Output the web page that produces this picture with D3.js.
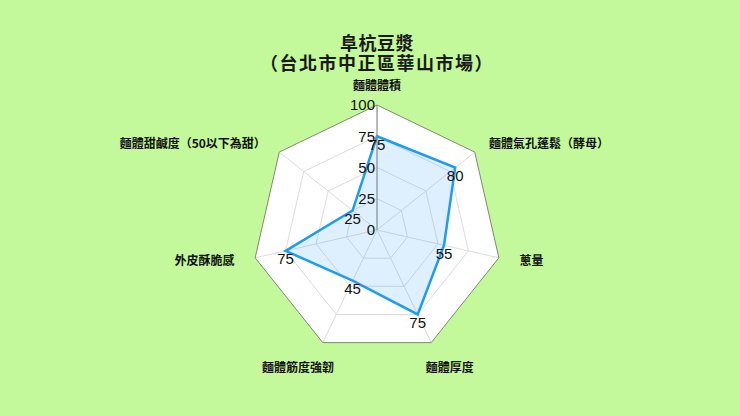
<!DOCTYPE html>
<html>
  <head>
    <meta charset="utf-8">
    <title>阜杭豆漿</title>
    <style>
      html, body { margin: 0; padding: 0; background: #c4f99b; }
      svg { display: block; }
      text { font-family: "Noto Sans CJK TC", "Noto Sans", sans-serif; }
      text.num { font-family: "Liberation Sans", Arial, sans-serif; }
    </style>
  </head>
  <body>
    <script src="https://d3js.org/d3.v7.min.js"></script>
    <script type="text/javascript">
      var titleLines = ['阜杭豆漿', '（台北市中正區華山市場）'];
      var categories = ['麵體體積', '麵體氣孔蓬鬆（酵母）', '蔥量', '麵體厚度',
                        '麵體筋度強韌', '外皮酥脆感', '麵體甜鹹度（50以下為甜）'];
      var values = [75, 80, 55, 75, 45, 75, 25];
      var ticks = [0, 25, 50, 75, 100];

      var w = 740;
      var h = 416;
      var cx = 377;
      var cy = 230;
      var radius = 125;
      var n = categories.length;

      var svg = d3.select('body').append('svg').attr('width', w).attr('height', h);

      var r = d3.scaleLinear().domain([0, 100]).range([0, radius]);
      var angle = d3.scaleLinear().domain([0, n]).range([0, 2 * Math.PI]);

      function pt(i, v) {
        var a = angle(i);
        return [cx + r(v) * Math.sin(a), cy - r(v) * Math.cos(a)];
      }

      // title
      svg.selectAll('text.title')
        .data(titleLines)
        .enter()
        .append('text')
        .attr('class', 'title')
        .attr('x', cx)
        .attr('y', function(d, i) { return 50 + i * 20; })
        .attr('text-anchor', 'middle')
        .attr('font-size', '18px')
        .attr('font-weight', 'bold')
        .attr('fill', '#1a1a1a')
        .attr('letter-spacing', function(d, i) { return i ? '1.5px' : '0.5px'; })
        .text(function(d) { return d; });

      var ring = d3.line();
      function ringPath(v) {
        return ring(d3.range(n).map(function(i) { return pt(i, v); })) + 'Z';
      }

      // outer background
      svg.append('path')
        .attr('d', ringPath(100))
        .attr('fill', '#fff')
        .attr('stroke', 'none');

      // inner rings
      svg.selectAll('path.ring')
        .data(ticks.slice(1, -1))
        .enter()
        .append('path')
        .attr('class', 'ring')
        .attr('d', function(d) { return ringPath(d); })
        .attr('fill', 'none')
        .attr('stroke', '#dcdcdc')
        .attr('stroke-width', 1);

      // spokes
      svg.selectAll('line.spoke')
        .data(d3.range(n))
        .enter()
        .append('line')
        .attr('class', 'spoke')
        .attr('x1', cx)
        .attr('y1', cy)
        .attr('x2', function(i) { return pt(i, 100)[0]; })
        .attr('y2', function(i) { return pt(i, 100)[1]; })
        .attr('stroke', '#dcdcdc')
        .attr('stroke-width', 1);

      // outer edge
      svg.append('path')
        .attr('d', ringPath(100))
        .attr('fill', 'none')
        .attr('stroke', '#7f8c70')
        .attr('stroke-width', 1);

      // data polygon
      svg.append('path')
        .attr('d', ring(values.map(function(v, i) { return pt(i, v); })) + 'Z')
        .attr('fill', 'rgba(33,150,243,0.15)')
        .attr('stroke', '#1e9cf0')
        .attr('stroke-width', 2.5)
        .attr('stroke-linejoin', 'miter');

      // radial axis
      svg.append('line')
        .attr('x1', cx).attr('y1', cy)
        .attr('x2', cx).attr('y2', cy - radius)
        .attr('stroke', '#888')
        .attr('stroke-width', 1);

      svg.selectAll('text.tick')
        .data(ticks)
        .enter()
        .append('text')
        .attr('class', 'tick num')
        .attr('x', cx - 2)
        .attr('y', function(d) { return cy - r(d); })
        .attr('dy', '0.35em')
        .attr('text-anchor', 'end')
        .attr('font-size', '15px')
        .attr('fill', '#111')
        .text(function(d) { return d; });

      // value labels
      svg.selectAll('text.val')
        .data(values)
        .enter()
        .append('text')
        .attr('class', 'val num')
        .attr('x', function(d, i) { return pt(i, d)[0]; })
        .attr('y', function(d, i) { return pt(i, d)[1] + 8; })
        .attr('dy', '0.35em')
        .attr('text-anchor', 'middle')
        .attr('font-size', '15px')
        .attr('fill', '#111')
        .text(function(d) { return d; });

      // category labels
      svg.selectAll('text.cat')
        .data(categories)
        .enter()
        .append('text')
        .attr('class', 'cat')
        .attr('font-size', '12px')
        .attr('font-weight', 'bold')
        .attr('fill', '#111')
        .attr('text-anchor', 'middle')
        .attr('dy', '0.35em')
        .text(function(d) { return d; })
        .each(function(d, i) {
          var a = angle(i);
          var s = Math.sin(a), c = Math.cos(a);
          var p = pt(i, 100 + 14 * 100 / radius);
          var tw = this.getComputedTextLength();
          var f = Math.max(-1, Math.min(1, 1.2 * s)) * 0.5;
          var x = p[0] + tw * f + (Math.abs(s) > 0.7 ? 7 * Math.sign(s) : 0);
          var y = p[1];
          if (c > 0.85) y -= 5;
          if (c < -0.85) y += 13;
          d3.select(this).attr('x', x).attr('y', y);
        });
    </script>
  </body>
</html>
